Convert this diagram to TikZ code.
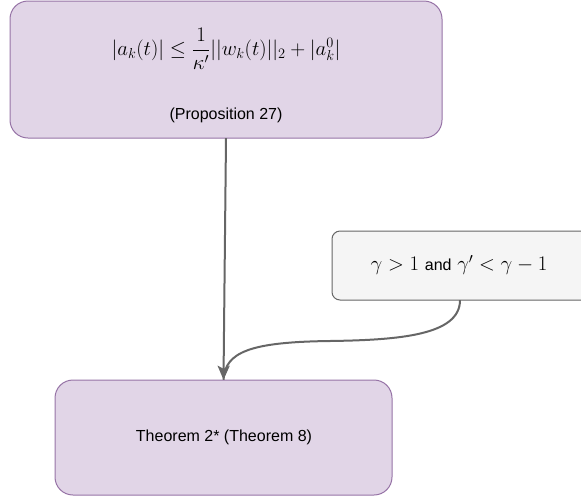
\documentclass[tikz,border=0pt]{standalone}
\usepackage{fontspec}
\setmainfont{Liberation Sans}
\usetikzlibrary{arrows.meta}
\definecolor{purfill}{HTML}{E1D5E7}
\definecolor{purline}{HTML}{9673A6}
\definecolor{grfill}{HTML}{F5F5F5}
\definecolor{grline}{HTML}{666666}
\begin{document}
\begin{tikzpicture}[x=1pt,y=-1pt,
  purbox/.style={draw=purline,fill=purfill,line width=1pt,rounded corners=18pt},
  graybox/.style={draw=grline,fill=grfill,line width=1pt,rounded corners=8pt},
  conn/.style={draw=grline,line width=2pt,-{Stealth[length=14pt,width=12pt,inset=3pt]}},
  link/.style={draw=grline,line width=2pt},
  lbl/.style={font=\fontsize{16}{19}\selectfont}]
\useasboundingbox (0,0) rectangle (581,496);
\draw[purbox] (10,1) rectangle (442,138);
\node[inner sep=0,minimum width=432pt,minimum height=137pt] (top) at (226,69.5) {};
\node[font=\fontsize{20.5}{24}\selectfont] (f) at (226,49) {$\displaystyle |a_k(t)| \le \frac{1}{\kappa'}||w_k(t)||_2 + |a_k^0|$};
\node[lbl] (p) at (226,115) {(Proposition 27)};
\draw[graybox] (332,231) rectangle (590,300);
\node[inner sep=0,minimum width=258pt,minimum height=69pt] (cond) at (460,265.5) {};
\node[font=\fontsize{20.5}{24}\selectfont] (ct) at (459,265) {$\gamma>1$ {\fontsize{16}{19}\selectfont and} $\gamma'<\gamma-1$};
\draw[purbox] (55,380) rectangle (392,495);
\node[inner sep=0,minimum width=337pt,minimum height=115pt] (bottom) at (223.5,437.5) {};
\node[lbl] (bt) at (224,437) {Theorem 2* (Theorem 8)};
\draw[link] (cond.south) .. controls (460,335) and (400,340) .. (330,341) .. controls (250,342) and (225,352) .. (bottom.north);
\draw[conn] (top.south) -- (bottom.north);
\end{tikzpicture}
\end{document}
